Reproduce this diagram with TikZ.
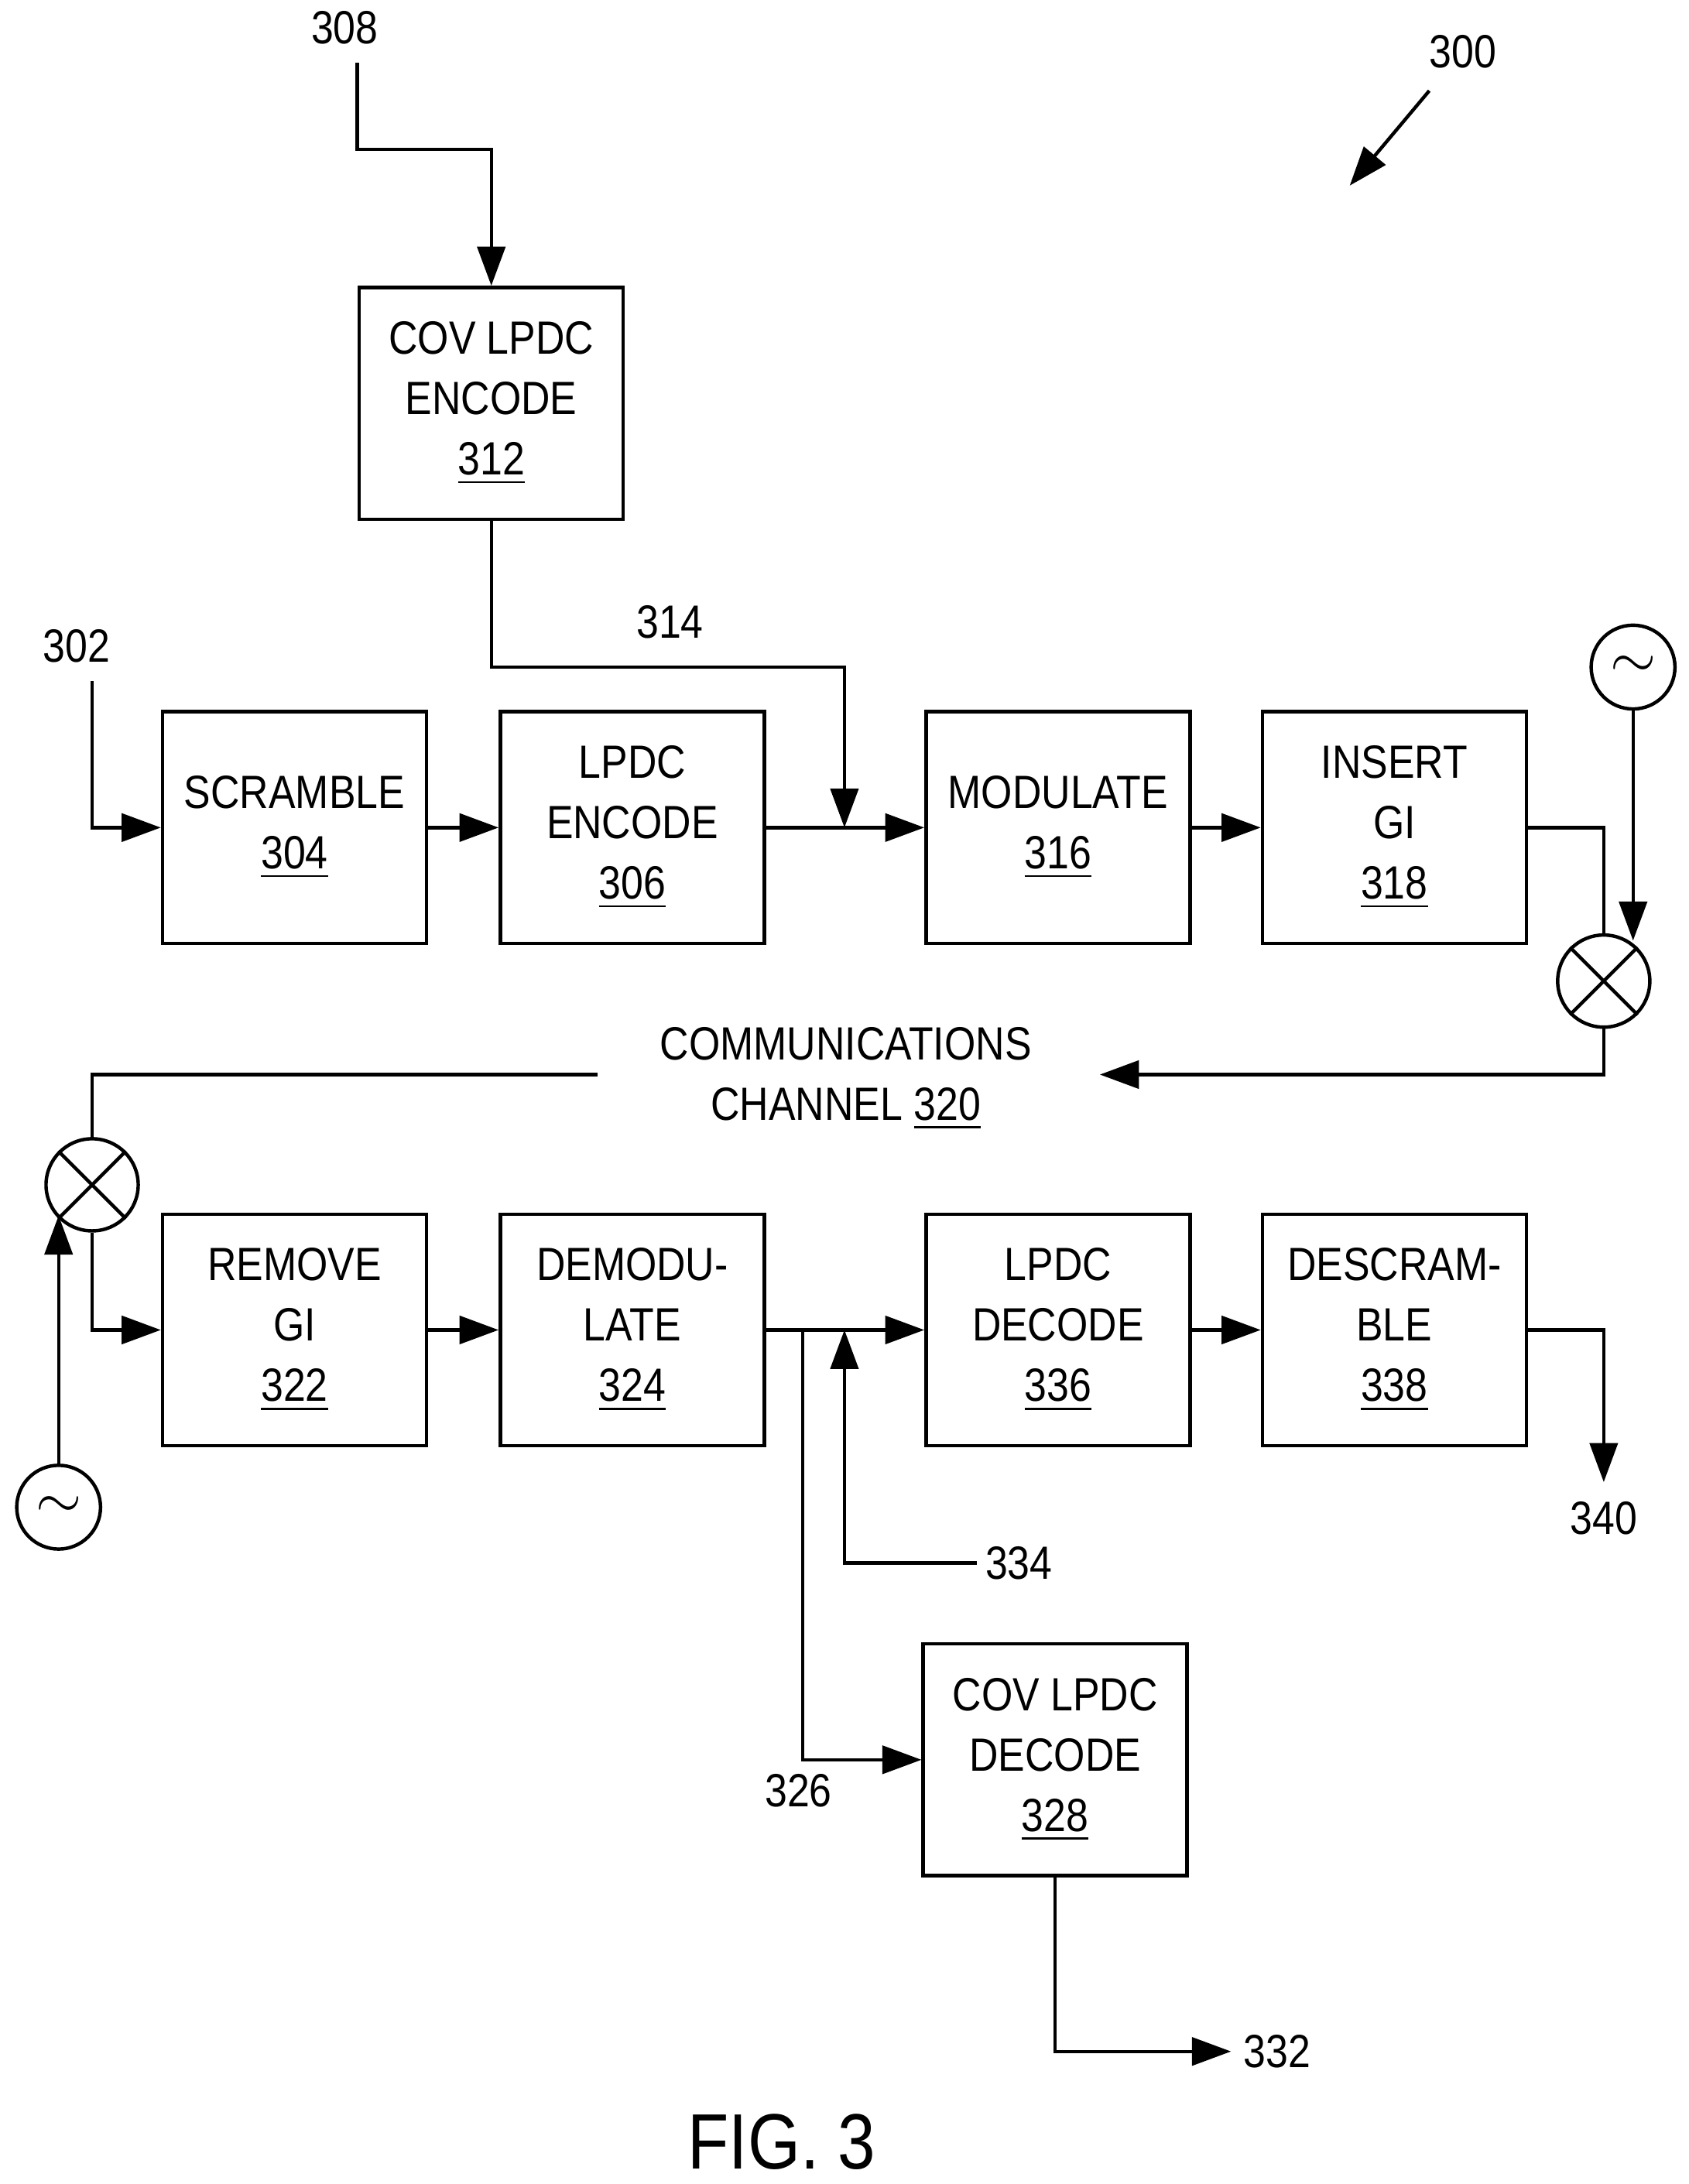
\documentclass[tikz,border=0pt]{standalone}
\usepackage{fontspec}
\setmainfont{Liberation Sans}[FakeStretch=0.86]
\usetikzlibrary{arrows.meta}

\begin{document}
\begin{tikzpicture}[x=0.01cm,y=-0.01cm]
\tikzstyle{block}=[rectangle, draw=black, line width=0.7pt, minimum width=1.89cm, minimum height=1.66cm, align=center, font=\fontsize{9.5}{12.3}\selectfont, inner sep=0pt]
\tikzstyle{mixer}=[circle, draw=black, line width=0.7pt, minimum size=0.66cm, inner sep=0pt]
\tikzstyle{osc}=[circle, draw=black, line width=0.7pt, minimum size=0.6cm, inner sep=0pt, font=\large]
\tikzstyle{connect}=[-{Triangle[length=2.8mm,width=2mm]}, line width=0.7pt]
\tikzstyle{wire}=[line width=0.7pt]
\tikzstyle{lbl}=[font=\fontsize{9.5}{12.3}\selectfont, inner sep=1pt]
\useasboundingbox (0,0) rectangle (1210,1565);
  % transmit chain
  \node[block] (cenc) at (352,289) {COV LPDC\\ENCODE\\\underline{312}};
  \node[block] (scr) at (211,593) {SCRAMBLE\\\underline{304}};
  \node[block] (enc) at (453,593) {LPDC\\ENCODE\\\underline{306}};
  \node[block] (mod) at (758,593) {MODULATE\\\underline{316}};
  \node[block] (gi) at (999,593) {INSERT\\GI\\\underline{318}};
  \node[mixer] (mixt) at (1149,703) {};
  \draw[wire] (mixt.north west) -- (mixt.south east) (mixt.north east) -- (mixt.south west);
  \node[osc] (osct) at (1170,478) {$\sim$};
  % receive chain
  \node[block] (rgi) at (211,953) {REMOVE\\GI\\\underline{322}};
  \node[block] (dem) at (453,953) {DEMODU-\\LATE\\\underline{324}};
  \node[block] (dec) at (758,953) {LPDC\\DECODE\\\underline{336}};
  \node[block] (dscr) at (999,953) {DESCRAM-\\BLE\\\underline{338}};
  \node[block] (cdec) at (756,1261) {COV LPDC\\DECODE\\\underline{328}};
  \node[mixer] (mixr) at (66,849) {};
  \draw[wire] (mixr.north west) -- (mixr.south east) (mixr.north east) -- (mixr.south west);
  \node[osc] (oscr) at (42,1080) {$\sim$};
  % labels
  \node[lbl] (l308) at (247,20) {308};
  \node[lbl] (l302) at (55,463) {302};
  \node[lbl] (l314) at (480,446) {314};
  \node[lbl] (l300) at (1048,37) {300};
  \node[lbl, align=center] (chan) at (606,773) {COMMUNICATIONS\\CHANNEL \underline{320}};
  \node[lbl] (l334) at (730,1120) {334};
  \node[lbl] (l326) at (572,1283) {326};
  \node[lbl] (l340) at (1149,1088) {340};
  \node[lbl] (l332) at (915,1470) {332};
  \node[font=\fontsize{16}{18}\selectfont] (fig) at (560,1535) {FIG. 3};
  % connectors
  \coordinate (c308) at (256,45);
  \coordinate (c302) at (66,488);
  \coordinate (c334) at (700,1120);
  \coordinate (c340) at (1149,1062);
  \coordinate (c332) at (882,1470);
  \coordinate (chanr) at (788,770);
  \coordinate (chanl) at (428,770);
  \draw[connect] (c308) |- (300,107) -| (cenc.north);
  \draw[connect] (cenc.south) |- (530,478) -| (605,593);
  \draw[connect] (c302) |- (scr.west);
  \draw[connect] (scr) -- (enc);
  \draw[connect] (enc) -- (mod);
  \draw[connect] (mod) -- (gi);
  \draw[wire] (gi.east) -| (mixt.north);
  \draw[connect] (osct.south) -- (1170,674);
  \draw[connect] (mixt.south) |- (chanr);
  \draw[wire] (chanl) -| (mixr.north);
  \draw[connect] (mixr.south) |- (rgi.west);
  \draw[connect] (oscr.north) -- (42,871);
  \draw[connect] (rgi) -- (dem);
  \draw[connect] (dem) -- (dec);
  \draw[connect] (575,953) |- (cdec.west);
  \draw[connect] (c334) -| (605,953);
  \draw[connect] (dec) -- (dscr);
  \draw[connect] (dscr.east) -| (c340);
  \draw[connect] (cdec.south) |- (c332);
  \draw[connect] (1024,65) -- (967,133);
\end{tikzpicture}
\end{document}
